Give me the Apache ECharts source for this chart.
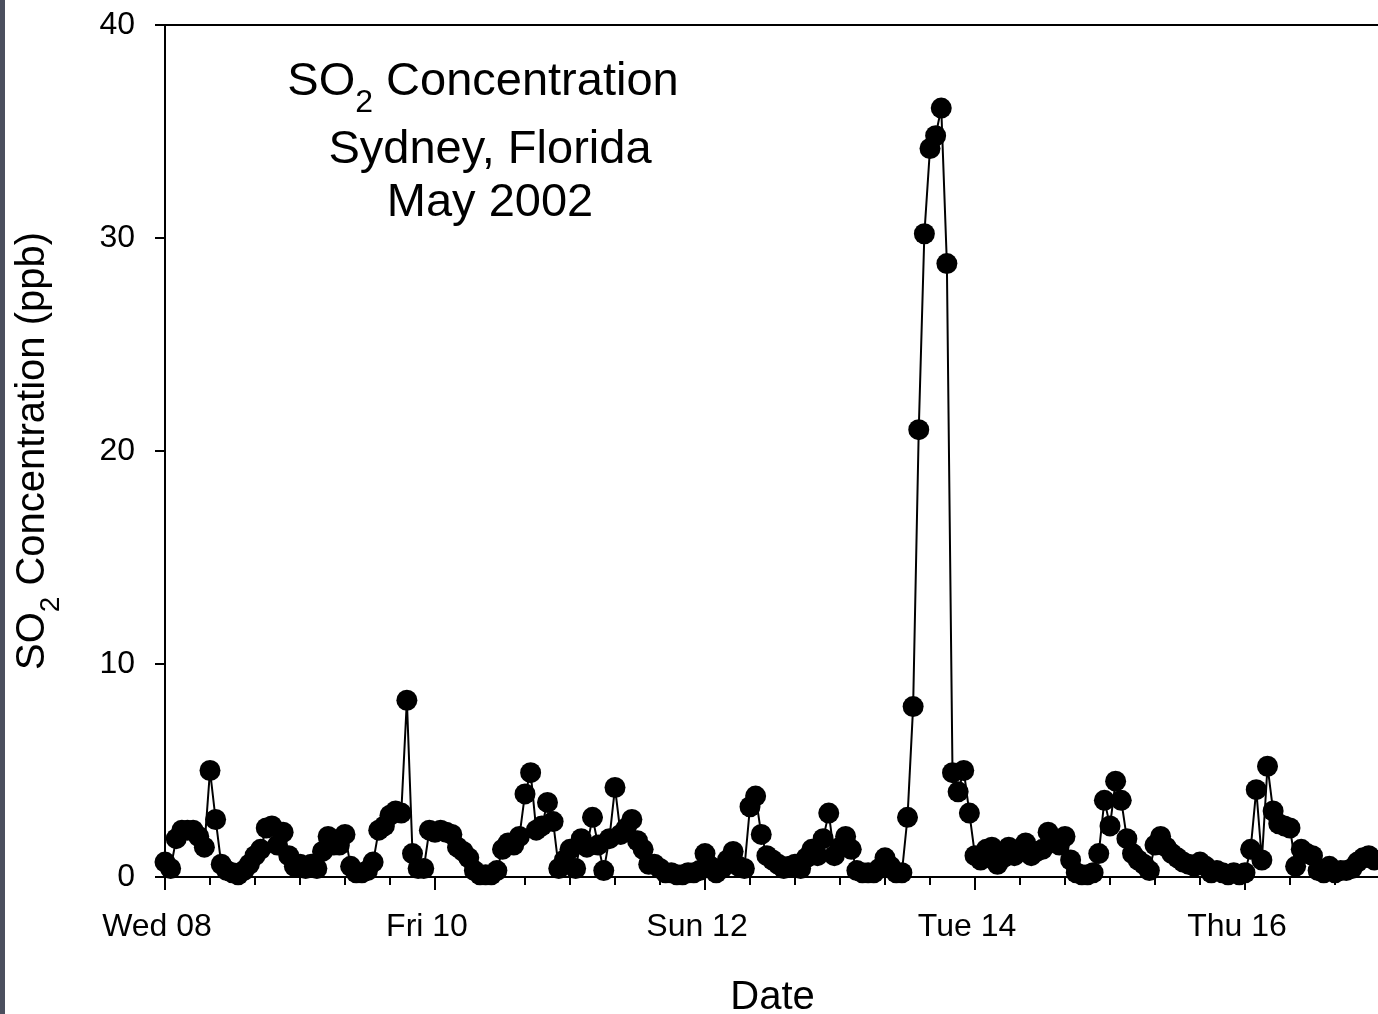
<!DOCTYPE html>
<html>
<head>
<meta charset="utf-8">
<title>SO2 Concentration - Sydney, Florida - May 2002</title>
<script src="https://cdn.jsdelivr.net/npm/echarts@6/dist/echarts.min.js"></script>
<style>
  html, body { margin: 0; padding: 0; background: #ffffff; }
  #chart { width: 1378px; height: 1014px; }
</style>
</head>
<body>
<div id="chart"></div>
<script>
// Day labels for the time axis (one per 24 h, starting Wed 08 00:00)
const dayLabels = ['Wed 08', 'Thu 09', 'Fri 10', 'Sat 11', 'Sun 12', 'Mon 13', 'Tue 14', 'Wed 15', 'Thu 16', 'Fri 17'];

// Hourly SO2 readings (ppb), one array per day, hours 00..23
const so2Wed08 = [0.7, 0.4, 1.8, 2.2, 2.2, 2.2, 1.9, 1.4, 5.0, 2.7, 0.6, 0.3, 0.2, 0.1, 0.3, 0.6, 1.0, 1.3, 2.3, 2.4, 1.5, 2.1, 1.0, 0.5];
const so2Thu09 = [0.6, 0.4, 0.6, 0.4, 1.2, 1.9, 1.5, 1.5, 2.0, 0.5, 0.2, 0.2, 0.3, 0.7, 2.2, 2.4, 2.9, 3.1, 3.0, 8.3, 1.1, 0.4, 0.4, 2.2];
const so2Fri10 = [2.1, 2.2, 2.1, 2.0, 1.4, 1.2, 0.9, 0.3, 0.1, 0.1, 0.1, 0.3, 1.3, 1.6, 1.5, 1.9, 3.9, 4.9, 2.2, 2.4, 3.5, 2.6, 0.4, 0.8];
const so2Sat11 = [1.3, 0.4, 1.8, 1.4, 2.8, 1.5, 0.3, 1.8, 4.2, 2.0, 2.3, 2.7, 1.7, 1.3, 0.6, 0.6, 0.4, 0.2, 0.2, 0.1, 0.1, 0.2, 0.2, 0.3];
const so2Sun12 = [1.1, 0.5, 0.2, 0.4, 0.8, 1.2, 0.5, 0.4, 3.3, 3.8, 2.0, 1.0, 0.8, 0.6, 0.4, 0.5, 0.6, 0.4, 0.9, 1.3, 1.0, 1.8, 3.0, 1.0];
const so2Mon13 = [1.4, 1.9, 1.3, 0.3, 0.2, 0.2, 0.2, 0.4, 0.9, 0.5, 0.2, 0.2, 2.8, 8.0, 21.0, 30.2, 34.2, 34.8, 36.1, 28.8, 4.9, 4.0, 5.0, 3.0];
const so2Tue14 = [1.0, 0.8, 1.3, 1.4, 0.6, 0.9, 1.4, 1.0, 1.2, 1.6, 1.0, 1.2, 1.3, 2.1, 1.8, 1.5, 1.9, 0.8, 0.2, 0.1, 0.1, 0.2, 1.1, 3.6];
const so2Wed15 = [2.4, 4.5, 3.6, 1.8, 1.1, 0.8, 0.6, 0.3, 1.5, 1.9, 1.4, 1.1, 0.9, 0.7, 0.6, 0.5, 0.7, 0.5, 0.2, 0.3, 0.2, 0.1, 0.2, 0.1];
const so2Thu16 = [0.2, 1.3, 4.1, 0.8, 5.2, 3.1, 2.5, 2.4, 2.3, 0.5, 1.3, 1.1, 1.0, 0.3, 0.2, 0.5, 0.2, 0.3, 0.3, 0.4, 0.7, 0.9, 1.0, 0.8];

// Y axis ticks (ppb)
const yTicks = [0, 10, 20, 30, 40];

const FONT = "'Liberation Sans', Arial, Helvetica, sans-serif";

// Hours elapsed since Wed 08 00:00 paired with each reading
const hourly = [].concat(so2Wed08, so2Thu09, so2Fri10, so2Sat11, so2Sun12, so2Mon13, so2Tue14, so2Wed15, so2Thu16);
const seriesData = hourly.map((v, hour) => [hour, v]);

const chart = echarts.init(document.getElementById('chart'), null, { renderer: 'canvas' });

chart.setOption({
  animation: false,
  backgroundColor: '#ffffff',
  grid: {
    left: 165, top: 25, right: -2, bottom: 137,
    show: true, borderColor: '#000', borderWidth: 2, backgroundColor: 'transparent',
    containLabel: false,
    outerBoundsMode: 'none'
  },
  xAxis: [
    {
      type: 'value', position: 'bottom',
      min: 0, max: 216, interval: 48,
      axisLine: { show: true, onZero: false, lineStyle: { color: '#000', width: 2 } },
      axisTick: { show: true, length: 13, lineStyle: { color: '#000', width: 2 } },
      axisLabel: {
        show: true, color: '#000', fontFamily: FONT, fontSize: 32, margin: 34,
        padding: [0, 16, 0, 0],
        showMaxLabel: false,
        formatter: v => (v % 48 === 0 ? dayLabels[v / 24] : '')
      },
      splitLine: { show: false },
      name: 'Date', nameLocation: 'middle', nameGap: 101,
      nameTextStyle: { color: '#000', fontFamily: FONT, fontSize: 40 }
    },
    {
      type: 'value', position: 'bottom',
      min: 0, max: 216, interval: 8,
      axisLine: { show: false },
      axisTick: { show: true, length: 8, lineStyle: { color: '#000', width: 2 } },
      axisLabel: { show: false },
      splitLine: { show: false }
    }
  ],
  yAxis: {
    type: 'value',
    min: yTicks[0], max: yTicks[yTicks.length - 1], interval: yTicks[1] - yTicks[0],
    axisLine: { show: true, lineStyle: { color: '#000', width: 2 } },
    axisTick: { show: true, length: 10, lineStyle: { color: '#000', width: 2 } },
    axisLabel: { color: '#000', fontFamily: FONT, fontSize: 32, margin: 30 },
    splitLine: { show: false },
    name: 'SO{sub|2} Concentration (ppb)',
    nameLocation: 'middle', nameGap: 100, nameRotate: 90,
    nameTextStyle: {
      color: '#000', fontFamily: FONT, fontSize: 40,
      rich: {
        sub: { fontFamily: FONT, fontSize: 28, color: '#000', lineHeight: 64, verticalAlign: 'bottom' }
      }
    }
  },
  series: [{
    type: 'line',
    xAxisIndex: 0,
    data: seriesData,
    symbol: 'circle',
    symbolSize: 21,
    showSymbol: true,
    clip: false,
    itemStyle: { color: '#000', borderWidth: 0 },
    lineStyle: { color: '#000', width: 2 },
    emphasis: { disabled: true }
  }],
  graphic: [
    { type: 'rect', left: 0, top: 0, shape: { width: 5, height: 1014 }, style: { fill: '#4b4f5e' }, z: 100 },
    {
      type: 'text', x: 483, y: 82,
      style: {
        text: 'SO{sub|2} Concentration', fontFamily: FONT, fontSize: 47, fill: '#000',
        align: 'center', verticalAlign: 'middle',
        rich: { sub: { fontFamily: FONT, fontSize: 32, fill: '#000', lineHeight: 74, verticalAlign: 'bottom' } }
      }
    },
    {
      type: 'text', x: 490, y: 150,
      style: { text: 'Sydney, Florida', fontFamily: FONT, fontSize: 47, fill: '#000', align: 'center', verticalAlign: 'middle' }
    },
    {
      type: 'text', x: 490, y: 203,
      style: { text: 'May 2002', fontFamily: FONT, fontSize: 47, fill: '#000', align: 'center', verticalAlign: 'middle' }
    }
  ]
});
</script>
</body>
</html>
